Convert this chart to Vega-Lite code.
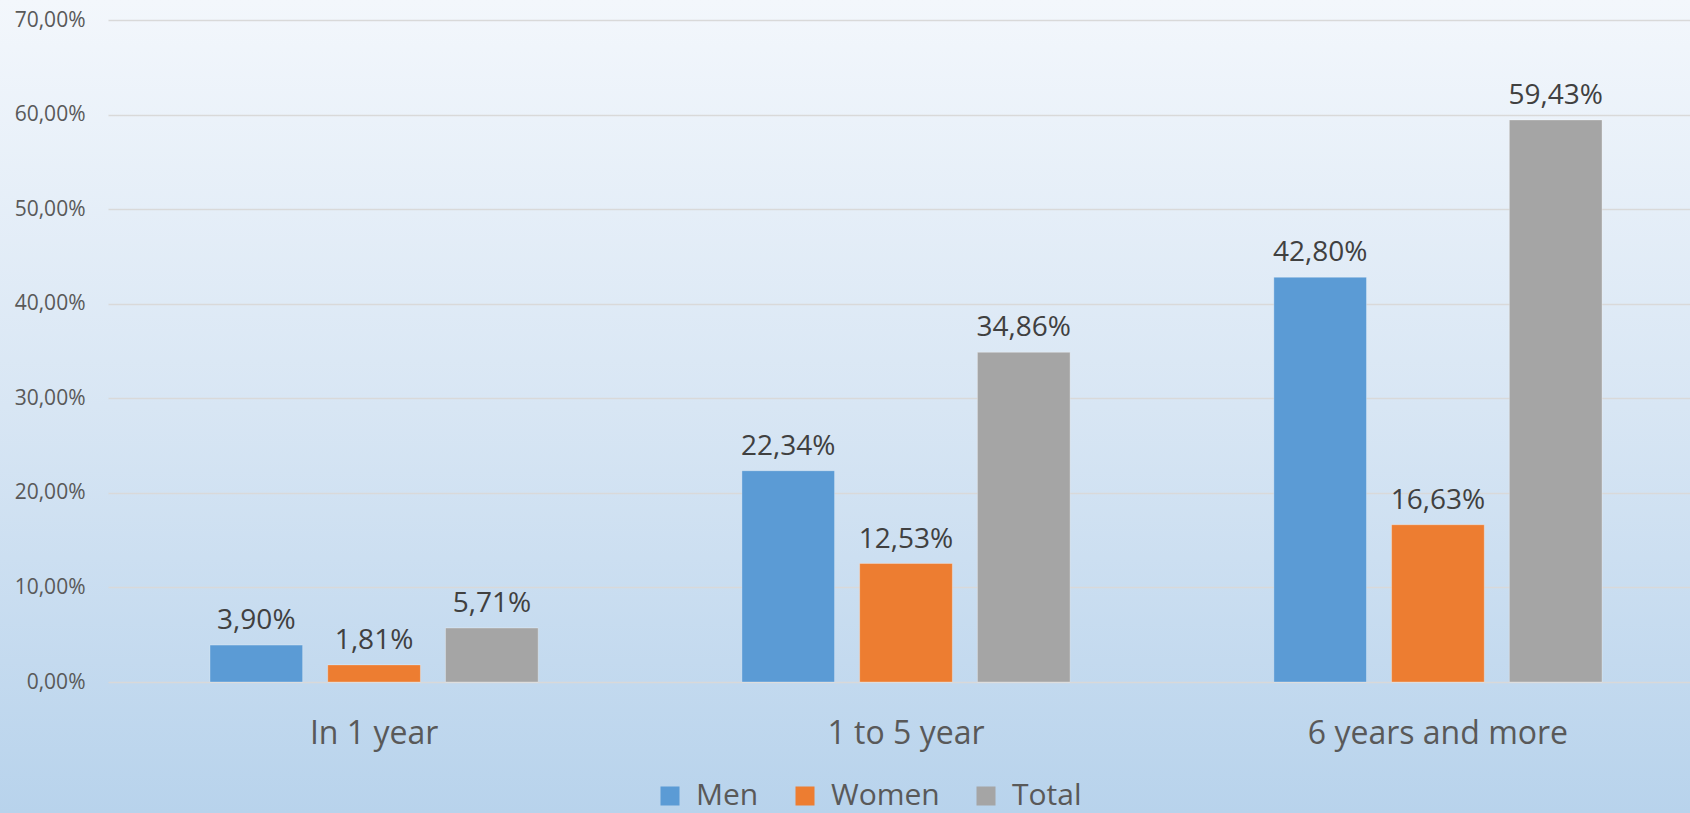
{
  "$schema": "https://vega.github.io/schema/vega-lite/v6.json",
  "width": 1690,
  "height": 813,
  "padding": 0,
  "autosize": "none",
  "background": "#B9D4EC",
  "config": {
    "locale": {"number": {"decimal": ",", "thousands": ".", "grouping": [3], "currency": ["", "€"]}},
    "view": {
      "stroke": null,
      "fill": {"gradient": "linear", "x1": 0, "y1": 0, "x2": 0, "y2": 1,
        "stops": [{"offset": 0, "color": "#F3F7FC"}, {"offset": 0.5, "color": "#D8E6F4"}, {"offset": 1, "color": "#B8D3EC"}]}
    },
    "font": "Open Sans"
  },
  "data": {"values": [
    {"period": "In 1 year", "group": "Men", "value": 0.039},
    {"period": "In 1 year", "group": "Women", "value": 0.0181},
    {"period": "In 1 year", "group": "Total", "value": 0.0571},
    {"period": "1 to 5 year", "group": "Men", "value": 0.2234},
    {"period": "1 to 5 year", "group": "Women", "value": 0.1253},
    {"period": "1 to 5 year", "group": "Total", "value": 0.3486},
    {"period": "6 years and more", "group": "Men", "value": 0.428},
    {"period": "6 years and more", "group": "Women", "value": 0.1663},
    {"period": "6 years and more", "group": "Total", "value": 0.5943}
  ]},
  "encoding": {
    "x": {"field": "period", "type": "nominal", "sort": ["In 1 year", "1 to 5 year", "6 years and more"],
      "scale": {"range": [108, 1704], "paddingInner": 0.383, "paddingOuter": 0.1917},
      "axis": {"title": null, "orient": "bottom", "offset": -131, "domain": false, "ticks": false, "grid": false,
        "labelAngle": 0, "labelFontSize": 32, "labelColor": "#595959", "labelFont": "Open Sans", "labelPadding": 36, "labelLimit": 0}},
    "xOffset": {"field": "group", "type": "nominal", "sort": ["Men", "Women", "Total"],
      "scale": {"paddingInner": 0.213, "paddingOuter": 0}},
    "y": {"field": "value", "type": "quantitative",
      "scale": {"domain": [0, 0.7], "range": [682, 20], "nice": false, "zero": true},
      "axis": {"title": null, "offset": -108, "format": ".2%", "values": [0, 0.1, 0.2, 0.3, 0.4, 0.5, 0.6, 0.7],
        "domain": false, "ticks": false, "grid": true, "gridColor": "#D9D9D9", "gridWidth": 1.5,
        "labelFontSize": 21, "labelColor": "#595959", "labelFont": "Open Sans", "labelPadding": 23}}
  },
  "layer": [
    {
      "mark": {"type": "bar", "stroke": "#FFFFFF", "strokeOpacity": 0.3, "strokeWidth": 1},
      "encoding": {
        "color": {"field": "group", "type": "nominal",
          "scale": {"domain": ["Men", "Women", "Total"], "range": ["#5B9BD5", "#ED7D31", "#A5A5A5"]},
          "legend": {"title": null, "orient": "none", "direction": "horizontal", "legendX": 655, "legendY": 781,
            "symbolType": "square", "symbolSize": 361, "symbolStrokeWidth": 0, "labelFontSize": 30,
            "labelColor": "#595959", "labelFont": "Open Sans", "labelOffset": 11, "columnPadding": 31, "padding": 0}}
      }
    },
    {
      "mark": {"type": "text", "baseline": "alphabetic", "dy": -16, "fontSize": 28, "color": "#404040", "font": "Open Sans"},
      "encoding": {"text": {"field": "value", "type": "quantitative", "format": ".2%"}}
    }
  ]
}
